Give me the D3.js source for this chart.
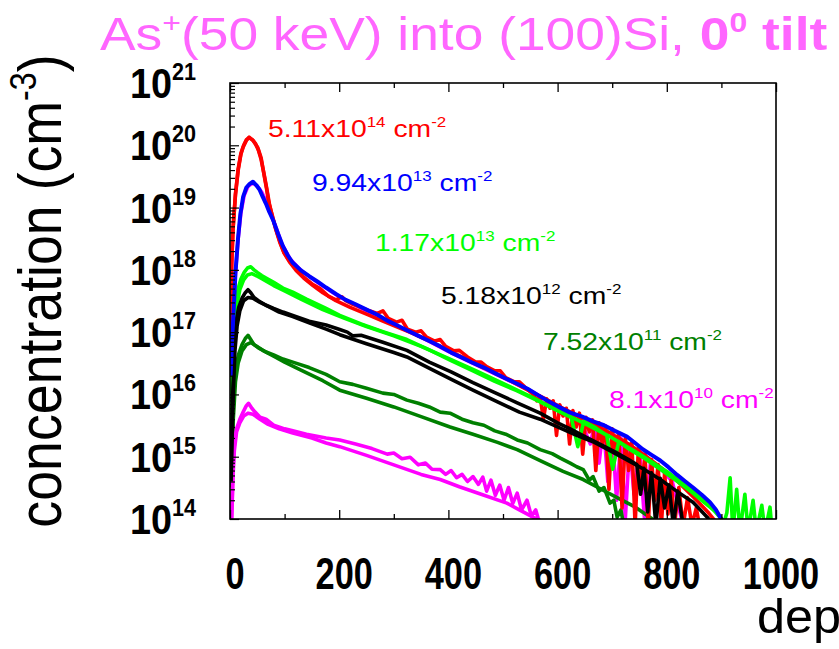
<!DOCTYPE html>
<html>
<head>
<meta charset="utf-8">
<script src="https://cdn.jsdelivr.net/npm/d3@7"></script>
<style>
  html, body { margin: 0; padding: 0; background: #ffffff; }
  svg { display: block; }
  text { font-family: "Liberation Sans", Arial, Helvetica, sans-serif; }
</style>
</head>
<body>
<svg id="chart" width="839" height="649"></svg>
<script>
// As+ implant profiles, 50 keV into (100)Si, 0 degree tilt.
// Each profile: [depth (nm), concentration (cm^-3)]

const red514Sims = [
  [1,7.9e16],[3,1.1e18],[5.5,4.4e18],[10,1.6e19],[15,4.0e19],[20,7.2e19],[24,9.3e19],[30,1.2e20],
  [35,1.35e20],[42,1.2e20],[51,9.1e19],[57,6.3e19],[62,3.5e19],[67,2.0e19],[71,1.2e19],[78,7.2e18],
  [84,4.5e18],[91,2.9e18],[99,1.9e18],[110,1.35e18],[121,1.05e18],[135,7.6e17],[152,5.8e17],[165,5.0e17],
  [180,3.8e17],[194,3.3e17],[205,3.7e17],[212,3.2e17],[225,2.8e17],[240,2.5e17],[255,2.2e17],[270,2.0e17],
  [280,2.2e17],[290,1.66e17],[305,1.45e17],[315,1.55e17],[325,1.12e17],[340,1.0e17],[350,1.05e17],[360,8.3e16],
  [375,7.2e16],[385,7.6e16],[395,5.9e16],[410,5.0e16],[420,5.1e16],[435,4.0e16],[450,3.3e16],[460,3.3e16],
  [470,2.8e16],[485,2.4e16],[495,2.4e16],[505,1.86e16],[520,1.6e16],[530,1.6e16],[545,1.2e16],[555,1.0e16],
  [562,7.9e15],[568,9.3e15],[574,4.0e15],[580,8.5e15],[586,6.0e15],[592,7.9e15],[598,2.2e15],[604,6.8e15],
  [610,4.5e15],[616,6.0e15],[622,1.6e15],[628,5.5e15],[634,3.0e15],[640,5.0e15],[646,1.1e15],[652,4.3e15],
  [658,2.5e15],[664,3.9e15],[670,6.0e14],[676,3.5e15],[682,1.6e15],[688,3.1e15],[694,3.0e14],[700,2.8e15],
  [706,1.1e15],[712,2.4e15],[718,1.5e14],[724,2.0e15],[730,6.0e14],[736,1.7e15],[742,7.9e13],[748,1.4e15],
  [754,3.0e14],[760,1.1e15],[766,7.9e13],[772,9.0e14],[778,2.0e14],[784,7.5e14],[790,7.9e13],[796,5.5e14],
  [802,1.2e14],[808,4.2e14],[814,7.9e13],[822,3.2e14],[830,7.9e13],[838,2.2e14],[846,7.9e13],[854,1.5e14],
  [862,6.3e13]
];

const red514Sim = [
  [1,1.0e17],[3,1.26e18],[5.5,4.6e18],[10,1.66e19],[15,4.2e19],[20,7.4e19],[25,1.0e20],[30,1.23e20],
  [35,1.32e20],[41,1.23e20],[47,1.05e20],[52,8.3e19],[57,5.9e19],[62,3.6e19],[67,2.1e19],[72,1.17e19],
  [78,6.9e18],[84,4.4e18],[91,2.8e18],[99,1.86e18],[110,1.3e18],[121,9.8e17],[135,7.4e17],[152,5.6e17],
  [170,4.3e17],[194,3.2e17],[220,2.5e17],[250,1.95e17],[280,1.5e17],[310,1.17e17],[340,9.1e16],[370,6.9e16],
  [400,5.1e16],[430,3.8e16],[460,2.8e16],[490,2.1e16],[520,1.55e16],[550,1.12e16],[580,8.3e15],[610,6.0e15],
  [640,4.4e15],[670,3.2e15],[700,2.3e15],[730,1.6e15],[760,1.05e15],[790,6.6e14],[820,4.0e14],[850,2.2e14],
  [875,1.3e14],[895,7.9e13]
];

const blue994Sims = [
  [1,2.0e16],[4,7.9e16],[7,2.5e17],[10,8.9e17],[14.7,3.2e18],[19,7.9e18],[24,1.48e19],[30,2.1e19],
  [36,2.4e19],[42,2.6e19],[48,2.3e19],[54,1.95e19],[60,1.48e19],[66,1.15e19],[72,8.5e18],[79,6.3e18],
  [88,3.8e18],[97,2.4e18],[106,1.7e18],[115,1.3e18],[130,9.8e17],[145,7.9e17],[160,6.5e17],[176,5.2e17],
  [194,4.1e17],[212,3.3e17],[230,2.8e17],[250,2.3e17],[270,1.9e17],[290,1.5e17],[305,1.3e17],[324,1.07e17],
  [345,8.7e16],[365,7.2e16],[385,5.9e16],[405,4.7e16],[425,3.9e16],[445,3.2e16],[465,2.7e16],[485,2.2e16],
  [505,1.8e16],[525,1.5e16],[545,1.23e16],[568,9.3e15],[585,7.6e15],[604,6.2e15],[623,5.1e15],[645,4.4e15],
  [665,3.7e15],[685,3.2e15],[705,2.6e15],[727,2.1e15],[742,1.66e15],[756,1.32e15],[772,1.07e15],[788,8.7e14],
  [803,6.8e14],[819,5.1e14],[834,4.0e14],[848,3.2e14],[864,2.45e14],[879,1.86e14],[890,1.41e14],[897,1.1e14],
  [905,7.9e13]
];

const magenta994Sim = [
  [2,3.2e16],[6,2.5e17],[10,8.9e17],[15,3.2e18],[20,8.3e18],[26,1.58e19],[33,2.2e19],[42,2.5e19],
  [50,2.2e19],[58,1.78e19],[66,1.26e19],[75,7.9e18],[85,4.6e18],[95,2.6e18],[110,1.5e18],[130,9.8e17],
  [160,6.3e17],[200,3.7e17],[250,2.2e17],[300,1.32e17],[350,8.3e16],[400,4.9e16],[450,3.0e16],[500,1.86e16],
  [550,1.15e16],[600,6.3e15],[640,4.2e15],[660,1.6e15],[668,3.5e15],[676,7.9e14],[684,3.2e15],[692,4.0e14],
  [700,2.6e15],[708,2.0e14],[716,2.0e15],[724,1.0e14],[732,1.58e15],[740,2.5e14],[750,1.26e15],[760,7.9e13],
  [770,7.9e14],[790,6.3e14],[810,4.0e14],[830,7.9e13]
];

const lime117Sims = [
  [2,2.5e15],[5,3.2e16],[8,1.26e17],[11,2.8e17],[15,5.0e17],[20,7.1e17],[26,9.1e17],[32,1.07e18],
  [38,1.12e18],[44,1.0e18],[50,9.1e17],[58,8.1e17],[66,7.4e17],[80,6.3e17],[97,5.1e17],[115,4.4e17],
  [140,3.4e17],[176,2.4e17],[201,1.86e17],[240,1.35e17],[280,1.02e17],[324,7.6e16],[365,5.2e16],[405,3.5e16],
  [445,2.4e16],[485,1.62e16],[525,1.15e16],[568,7.6e15],[600,5.5e15],[625,4.3e15],[637,1.45e15],[648,3.7e15],
  [670,2.9e15],[690,2.2e15],[701,6.3e14],[712,1.75e15],[727,1.4e15],[760,9.3e14],[788,6.3e14],[820,4.0e14],
  [848,2.6e14],[870,1.8e14],[892,1.26e14],[905,8.9e13],[910,1.26e14],[916,4.6e14],[921,6.3e13],[928,3.0e14],
  [934,6.3e13],[943,2.5e14],[949,6.3e13],[958,2.0e14],[964,6.3e13],[974,1.66e14],[980,6.3e13],[989,1.55e14],
  [993,6.3e13]
];

const lime117Sim = [
  [1,1.0e15],[4,2.0e16],[8,1.0e17],[12,2.5e17],[18,4.8e17],[25,6.9e17],[32,8.3e17],[40,8.7e17],
  [50,7.9e17],[60,7.1e17],[80,5.6e17],[100,4.6e17],[130,3.4e17],[170,2.3e17],[210,1.66e17],[250,1.23e17],
  [300,8.7e16],[350,5.9e16],[400,3.8e16],[450,2.4e16],[500,1.5e16],[550,9.3e15],[600,5.5e15],[650,3.4e15],
  [700,2.0e15],[750,1.1e15],[800,5.8e14],[850,2.7e14],[880,1.6e14],[905,8.9e13]
];

const black518Sims = [
  [2,6.3e14],[5,1.0e16],[8,6.3e16],[12,1.6e17],[16,2.5e17],[22,3.5e17],[28,4.3e17],[33,4.8e17],
  [38,4.3e17],[44,3.6e17],[52,3.2e17],[66,2.7e17],[80,2.4e17],[97,2.1e17],[115,1.86e17],[145,1.5e17],
  [176,1.3e17],[201,1.1e17],[215,1.0e17],[225,8.7e16],[240,8.9e16],[280,6.9e16],[324,5.1e16],[365,3.3e16],
  [405,2.3e16],[445,1.55e16],[485,1.07e16],[525,7.4e15],[568,5.0e15],[600,3.5e15],[623,2.8e15],[650,2.1e15],
  [680,1.55e15],[705,1.2e15],[730,9.0e14],[745,7.5e14],[752,2.5e14],[758,6.5e14],[765,1.3e14],[772,5.5e14],
  [780,7.9e13],[788,4.5e14],[796,1.5e14],[804,3.5e14],[812,7.9e13],[820,2.8e14],[830,7.9e13]
];

const black518Sim = [
  [2,4.0e14],[5,6.3e15],[9,5.0e16],[13,1.26e17],[18,2.2e17],[25,3.2e17],[33,3.6e17],[42,3.5e17],
  [55,3.0e17],[70,2.6e17],[90,2.1e17],[115,1.78e17],[145,1.41e17],[176,1.12e17],[201,9.1e16],[250,6.5e16],
  [300,4.7e16],[324,4.0e16],[370,2.5e16],[410,1.66e16],[445,1.17e16],[490,7.6e15],[530,5.2e15],[568,4.0e15],
  [604,2.9e15],[635,2.2e15],[665,1.74e15],[695,1.26e15],[727,8.9e14],[758,6.3e14],[788,4.3e14],[818,2.8e14],
  [848,1.86e14],[874,1.07e14],[890,7.1e13]
];

const green752Sims = [
  [3,6.3e14],[5,4.0e15],[8,1.6e16],[11,2.8e16],[16,4.5e16],[22,6.3e16],[28,7.9e16],[33,8.9e16],
  [38,7.6e16],[44,6.3e16],[52,5.6e16],[66,4.8e16],[80,4.3e16],[97,3.7e16],[115,3.3e16],[145,2.7e16],
  [176,2.1e16],[201,1.6e16],[225,1.45e16],[250,1.26e16],[280,1.05e16],[300,1.0e16],[324,8.1e15],[345,7.2e15],
  [365,6.3e15],[385,5.2e15],[403,5.0e15],[425,4.0e15],[445,3.5e15],[465,3.2e15],[485,2.6e15],[505,2.3e15],
  [526,1.86e15],[545,1.66e15],[568,1.3e15],[590,1.12e15],[605,9.5e14],[623,7.9e14],[635,6.9e14],[647,6.2e14],
  [658,4.2e14],[665,4.8e14],[676,2.8e14],[685,3.2e14],[696,1.8e14],[703,2.0e14],[709,1.07e14],[716,1.4e14],
  [722,7.1e13]
];

const green752Sim = [
  [3,3.2e14],[6,4.0e15],[10,1.6e16],[15,3.2e16],[22,5.0e16],[30,6.3e16],[38,6.8e16],[48,6.0e16],
  [60,5.1e16],[80,4.1e16],[100,3.3e16],[130,2.45e16],[170,1.66e16],[201,1.17e16],[250,8.7e15],[300,6.3e15],
  [350,4.4e15],[403,3.0e15],[445,2.3e15],[490,1.7e15],[526,1.3e15],[570,8.5e14],[610,5.8e14],[647,4.3e14],
  [680,3.0e14],[709,2.2e14],[740,1.6e14],[769,1.07e14],[790,7.9e13]
];

const magenta81Sims = [
  [2,7.9e13],[4,2.0e14],[6,7.9e14],[8,1.6e15],[12,2.8e15],[18,4.0e15],[24,5.2e15],[30,6.6e15],
  [34,7.2e15],[40,6.0e15],[46,5.2e15],[55,4.3e15],[66,4.0e15],[80,3.2e15],[100,2.8e15],[115,2.6e15],
  [140,2.3e15],[176,2.0e15],[201,1.86e15],[230,1.6e15],[260,1.35e15],[288,1.1e15],[300,1.15e15],[315,9.3e14],
  [330,9.8e14],[345,7.4e14],[358,7.9e14],[370,6.3e14],[385,6.2e14],[395,5.2e14],[405,6.0e14],[415,4.6e14],
  [425,5.2e14],[435,4.0e14],[445,4.8e14],[455,3.6e14],[463,4.7e14],[470,2.8e14],[478,4.2e14],[486,2.4e14],
  [494,3.5e14],[502,2.0e14],[510,3.2e14],[518,1.78e14],[526,2.6e14],[534,1.4e14],[544,2.0e14],[552,1.12e14],
  [560,1.4e14],[568,7.9e13]
];

const magenta81Sim = [
  [3,7.9e13],[5,4.0e14],[8,1.26e15],[12,2.5e15],[18,3.5e15],[25,4.5e15],[33,5.0e15],[42,4.8e15],
  [55,4.0e15],[70,3.3e15],[90,2.8e15],[115,2.4e15],[150,2.0e15],[176,1.66e15],[201,1.45e15],[250,1.05e15],
  [300,7.4e14],[350,5.2e14],[385,4.3e14],[420,3.3e14],[460,2.5e14],[507,1.8e14],[530,1.4e14],[555,1.07e14],
  [575,8.9e13]
];

// axis settings
const depthDomain = [0, 1000];
const concDomain = [1e14, 1e21];
const depthMajorTicks = [0, 200, 400, 600, 800, 1000];
const depthMinorTicks = [100, 300, 500, 700, 900];
const decadeExponents = [14, 15, 16, 17, 18, 19, 20, 21];

// dose labels: text mantissa, exponent, colour
const doseLabels = [
  { m: "5.11x10", e: "14", color: "#ff0000", x: 268, y: 137 },
  { m: "9.94x10", e: "13", color: "#0000ff", x: 312, y: 191 },
  { m: "1.17x10", e: "13", color: "#00ff00", x: 375, y: 251 },
  { m: "5.18x10", e: "12", color: "#000000", x: 441, y: 304 },
  { m: "7.52x10", e: "11", color: "#008000", x: 543, y: 350 },
  { m: "8.1x10",  e: "10", color: "#ff00ff", x: 609, y: 408 }
];

// draw order: later entries sit on top
const profiles = [
  { data: magenta994Sim, color: "#ff00ff", w: 3.6 },
  { data: green752Sim,   color: "#008000", w: 3.6 },
  { data: green752Sims,  color: "#008000", w: 3.6 },
  { data: magenta81Sim,  color: "#ff00ff", w: 3.6 },
  { data: magenta81Sims, color: "#ff00ff", w: 3.6 },
  { data: red514Sims,    color: "#ff0000", w: 3.6 },
  { data: red514Sim,     color: "#ff0000", w: 3.6 },
  { data: lime117Sim,    color: "#00ff00", w: 3.6 },
  { data: lime117Sims,   color: "#00ff00", w: 3.6 },
  { data: black518Sim,   color: "#000000", w: 3.6 },
  { data: black518Sims,  color: "#000000", w: 3.6 },
  { data: blue994Sims,   color: "#0000ff", w: 4 }
];

const svg = d3.select("#chart");
const plot = { left: 230, right: 776, top: 83, bottom: 519 };

const x = d3.scaleLinear().domain(depthDomain).range([plot.left, plot.right]);
const y = d3.scaleLog().domain(concDomain).range([plot.bottom, plot.top]);

// text with optional superscripts, stretched horizontally by sx
function richText(parent, px, py, size, sx, color, parts, anchor, rotate) {
  let tf = `translate(${px},${py}) scale(${sx},1)`;
  if (rotate) tf += ` rotate(${rotate})`;
  const t = parent.append("text")
    .attr("transform", tf)
    .attr("fill", color)
    .attr("font-size", size)
    .attr("text-anchor", anchor || "start");
  let raised = false;
  parts.forEach(p => {
    const s = t.append("tspan").text(p.t);
    if (p.bold) s.attr("font-weight", "bold");
    if (p.sup && !raised) { s.attr("font-size", size * 0.6).attr("dy", -size * 0.4); raised = true; }
    else if (p.sup) { s.attr("font-size", size * 0.6); }
    else if (!p.sup && raised) { s.attr("dy", size * 0.4); raised = false; }
  });
  return t;
}

svg.append("defs").append("clipPath").attr("id", "plotClip")
  .append("rect")
  .attr("x", plot.left).attr("y", plot.top)
  .attr("width", plot.right - plot.left).attr("height", plot.bottom - plot.top);

// profiles
const line = d3.line().x(d => x(d[0])).y(d => y(d[1]));
const lines = svg.append("g").attr("clip-path", "url(#plotClip)");
profiles.forEach(p => {
  lines.append("path")
    .attr("d", line(p.data))
    .attr("fill", "none")
    .attr("stroke", p.color)
    .attr("stroke-width", p.w)
    .attr("stroke-linejoin", "round");
});

// frame
svg.append("rect")
  .attr("x", plot.left).attr("y", plot.top)
  .attr("width", plot.right - plot.left).attr("height", plot.bottom - plot.top)
  .attr("fill", "none").attr("stroke", "#000").attr("stroke-width", 1.6);

// depth ticks (inward) on bottom and top
const bottomAxis = d3.axisBottom(x).tickValues(depthMajorTicks).tickSize(-9).tickFormat("");
const bottomMinor = d3.axisBottom(x).tickValues(depthMinorTicks).tickSize(-5).tickFormat("");
const topAxis = d3.axisTop(x).tickValues(depthMajorTicks).tickSize(-9).tickFormat("");
const topMinor = d3.axisTop(x).tickValues(depthMinorTicks).tickSize(-5).tickFormat("");
[[bottomAxis, plot.bottom], [bottomMinor, plot.bottom], [topAxis, plot.top], [topMinor, plot.top]].forEach(([ax, ty]) => {
  const g = svg.append("g").attr("transform", `translate(0,${ty})`).call(ax);
  g.select(".domain").remove();
  g.selectAll("line").attr("stroke", "#000").attr("stroke-width", 1.3);
});

// concentration ticks (inward) on the left: decades and log minors
const minorConc = [];
decadeExponents.slice(0, -1).forEach(e => { for (let k = 2; k <= 9; k++) minorConc.push(k * Math.pow(10, e)); });
const leftMajor = d3.axisLeft(y).tickValues(decadeExponents.map(e => Math.pow(10, e))).tickSize(-9).tickFormat("");
const leftMinor = d3.axisLeft(y).tickValues(minorConc).tickSize(-5).tickFormat("");
[leftMajor, leftMinor].forEach(ax => {
  const g = svg.append("g").attr("transform", `translate(${plot.left},0)`).call(ax);
  g.select(".domain").remove();
  g.selectAll("line").attr("stroke", "#000").attr("stroke-width", 1.2);
});

// concentration tick labels 10^n
const labels = svg.append("g");
decadeExponents.forEach(e => {
  const ty = y(Math.pow(10, e));
  richText(labels, 172, ty + 15, 42, 0.9, "#000", [{ t: "10", bold: true }], "end");
  richText(labels, 172, ty - 3, 24, 0.9, "#000", [{ t: String(e), bold: true }], "start");
});

// depth tick labels
depthMajorTicks.forEach(v => {
  richText(labels, x(v) + 5, 589, 44, 0.78, "#000", [{ t: String(v), bold: true }], "middle");
});

// axis titles
richText(svg, 61, 291, 53.7, 1.15, "#000",
  [{ t: "concentration (cm" }, { t: "-3", sup: true }, { t: ")" }], "middle", -90);
richText(svg, 757, 633, 48, 1.05, "#000", [{ t: "depth (nm)" }], "start");

// chart title
richText(svg, 100, 50, 46, 1.16, "#ff66ff", [
  { t: "As" }, { t: "+", sup: true }, { t: "(50 keV) into (100)Si, " },
  { t: "0", bold: true }, { t: "0", bold: true, sup: true }, { t: " tilt", bold: true }
], "start");

// dose annotations
doseLabels.forEach(d => {
  richText(svg, d.x, d.y, 24, 1.18, d.color, [
    { t: d.m }, { t: d.e, sup: true }, { t: " cm" }, { t: "-2", sup: true }
  ], "start");
});
</script>
</body>
</html>
